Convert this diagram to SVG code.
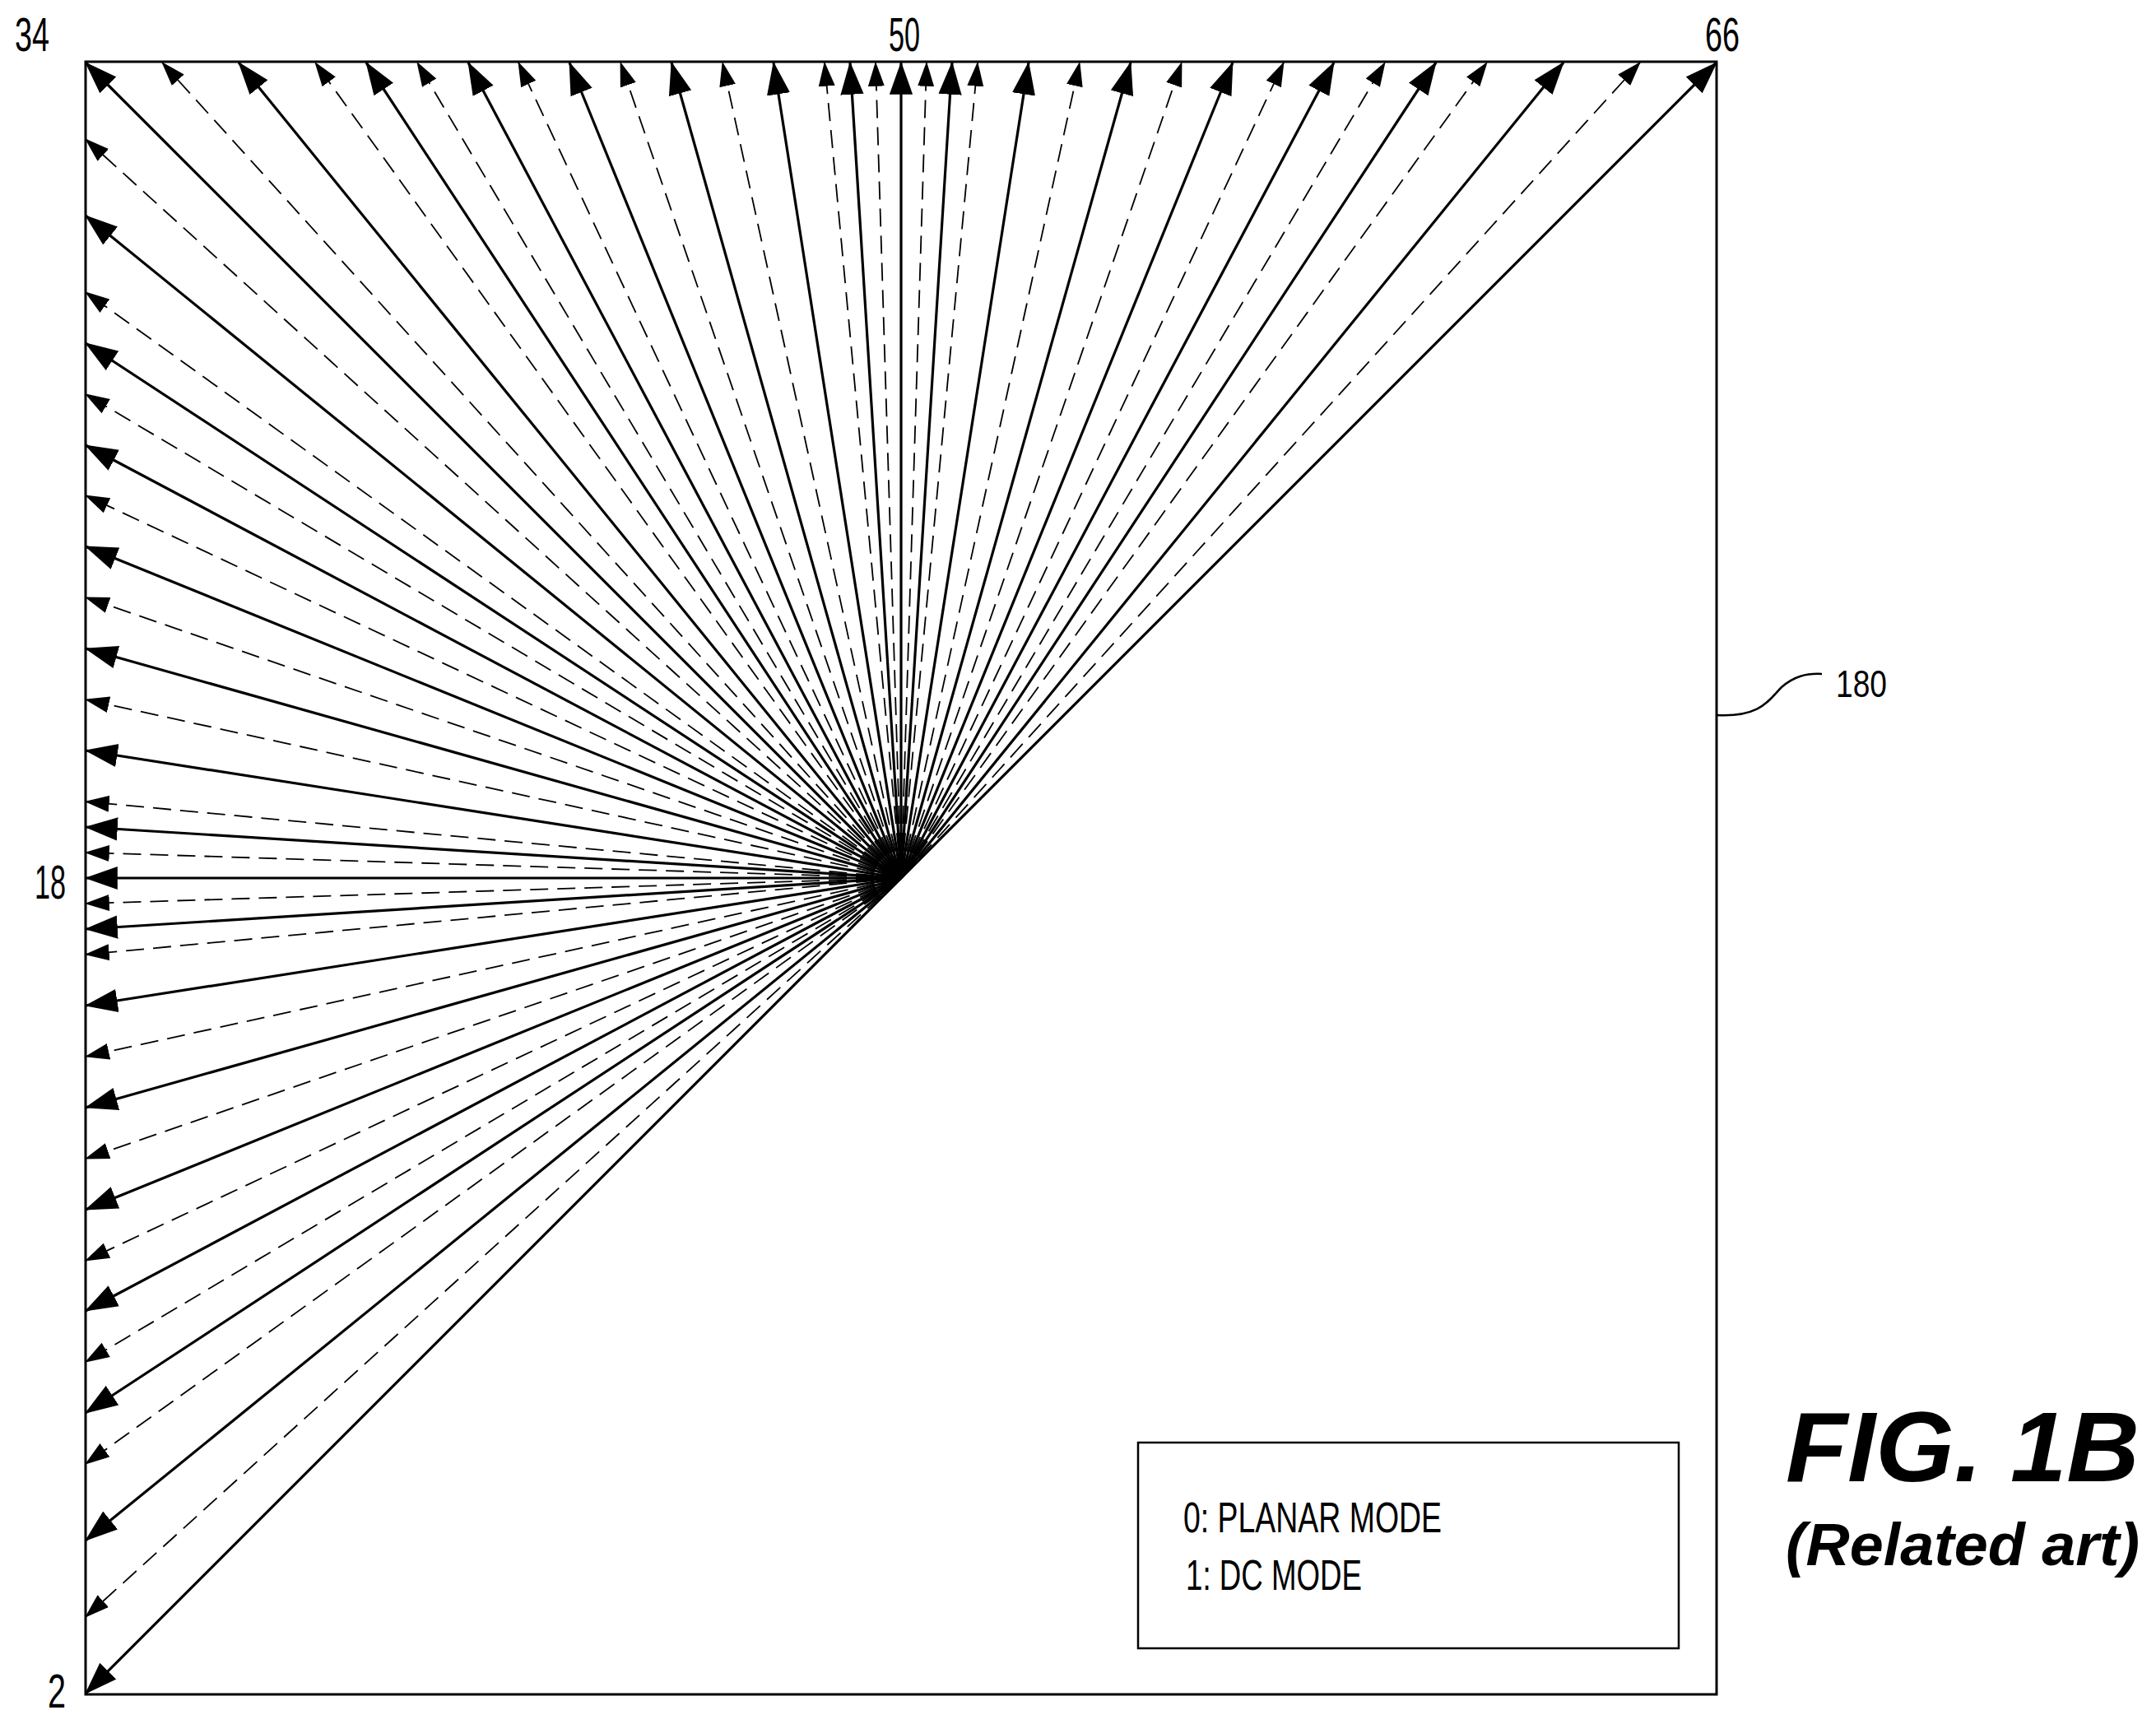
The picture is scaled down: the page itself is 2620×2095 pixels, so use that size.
<svg xmlns="http://www.w3.org/2000/svg" width="2620" height="2095" viewBox="0 0 2620 2095">
<style>
.s{stroke:#000;stroke-width:3.2;fill:none;marker-end:url(#hs)}
.d{stroke:#000;stroke-width:1.8;fill:none;stroke-dasharray:22 11;marker-end:url(#hd)}
.t{font-family:"Liberation Sans",Arial,sans-serif;fill:#000}
</style>
<defs>
<marker id="hs" markerUnits="userSpaceOnUse" markerWidth="40" markerHeight="30" viewBox="0 0 34 24" refX="33" refY="12" orient="auto"><path d="M0,0 L34,12 L0,24 Z" fill="#000"/></marker>
<marker id="hd" markerUnits="userSpaceOnUse" markerWidth="30" markerHeight="22" viewBox="0 0 24 16" refX="23" refY="8" orient="auto"><path d="M0,0 L24,8 L0,16 Z" fill="#000"/></marker>
</defs>
<rect width="2620" height="2095" fill="#fff"/>
<g id="frame"><rect x="104" y="75" width="1982" height="1984" fill="none" stroke="#000" stroke-width="3"/></g>
<g id="connectors">
<line class="s" x1="1095" y1="1067" x2="104" y2="2058"/>
<line class="d" x1="1095" y1="1067" x2="104" y2="1965"/>
<line class="s" x1="1095" y1="1067" x2="104" y2="1872"/>
<line class="d" x1="1095" y1="1067" x2="104" y2="1779"/>
<line class="s" x1="1095" y1="1067" x2="104" y2="1717"/>
<line class="d" x1="1095" y1="1067" x2="104" y2="1655"/>
<line class="s" x1="1095" y1="1067" x2="104" y2="1593"/>
<line class="d" x1="1095" y1="1067" x2="104" y2="1532"/>
<line class="s" x1="1095" y1="1067" x2="104" y2="1470"/>
<line class="d" x1="1095" y1="1067" x2="104" y2="1408"/>
<line class="s" x1="1095" y1="1067" x2="104" y2="1346"/>
<line class="d" x1="1095" y1="1067" x2="104" y2="1284"/>
<line class="s" x1="1095" y1="1067" x2="104" y2="1222"/>
<line class="d" x1="1095" y1="1067" x2="104" y2="1160"/>
<line class="s" x1="1095" y1="1067" x2="104" y2="1129"/>
<line class="d" x1="1095" y1="1067" x2="104" y2="1098"/>
<line class="s" x1="1095" y1="1067" x2="104" y2="1067"/>
<line class="d" x1="1095" y1="1067" x2="104" y2="1036"/>
<line class="s" x1="1095" y1="1067" x2="104" y2="1005"/>
<line class="d" x1="1095" y1="1067" x2="104" y2="974"/>
<line class="s" x1="1095" y1="1067" x2="104" y2="912"/>
<line class="d" x1="1095" y1="1067" x2="104" y2="850"/>
<line class="s" x1="1095" y1="1067" x2="104" y2="788"/>
<line class="d" x1="1095" y1="1067" x2="104" y2="726"/>
<line class="s" x1="1095" y1="1067" x2="104" y2="664"/>
<line class="d" x1="1095" y1="1067" x2="104" y2="602"/>
<line class="s" x1="1095" y1="1067" x2="104" y2="541"/>
<line class="d" x1="1095" y1="1067" x2="104" y2="479"/>
<line class="s" x1="1095" y1="1067" x2="104" y2="417"/>
<line class="d" x1="1095" y1="1067" x2="104" y2="355"/>
<line class="s" x1="1095" y1="1067" x2="104" y2="262"/>
<line class="d" x1="1095" y1="1067" x2="104" y2="169"/>
<line class="s" x1="1095" y1="1067" x2="104" y2="76"/>
<line class="d" x1="1095" y1="1067" x2="197" y2="76"/>
<line class="s" x1="1095" y1="1067" x2="290" y2="76"/>
<line class="d" x1="1095" y1="1067" x2="383" y2="76"/>
<line class="s" x1="1095" y1="1067" x2="445" y2="76"/>
<line class="d" x1="1095" y1="1067" x2="507" y2="76"/>
<line class="s" x1="1095" y1="1067" x2="569" y2="76"/>
<line class="d" x1="1095" y1="1067" x2="630" y2="76"/>
<line class="s" x1="1095" y1="1067" x2="692" y2="76"/>
<line class="d" x1="1095" y1="1067" x2="754" y2="76"/>
<line class="s" x1="1095" y1="1067" x2="816" y2="76"/>
<line class="d" x1="1095" y1="1067" x2="878" y2="76"/>
<line class="s" x1="1095" y1="1067" x2="940" y2="76"/>
<line class="d" x1="1095" y1="1067" x2="1002" y2="76"/>
<line class="s" x1="1095" y1="1067" x2="1033" y2="76"/>
<line class="d" x1="1095" y1="1067" x2="1064" y2="76"/>
<line class="s" x1="1095" y1="1067" x2="1095" y2="76"/>
<line class="d" x1="1095" y1="1067" x2="1126" y2="76"/>
<line class="s" x1="1095" y1="1067" x2="1157" y2="76"/>
<line class="d" x1="1095" y1="1067" x2="1188" y2="76"/>
<line class="s" x1="1095" y1="1067" x2="1250" y2="76"/>
<line class="d" x1="1095" y1="1067" x2="1312" y2="76"/>
<line class="s" x1="1095" y1="1067" x2="1374" y2="76"/>
<line class="d" x1="1095" y1="1067" x2="1436" y2="76"/>
<line class="s" x1="1095" y1="1067" x2="1498" y2="76"/>
<line class="d" x1="1095" y1="1067" x2="1560" y2="76"/>
<line class="s" x1="1095" y1="1067" x2="1621" y2="76"/>
<line class="d" x1="1095" y1="1067" x2="1683" y2="76"/>
<line class="s" x1="1095" y1="1067" x2="1745" y2="76"/>
<line class="d" x1="1095" y1="1067" x2="1807" y2="76"/>
<line class="s" x1="1095" y1="1067" x2="1900" y2="76"/>
<line class="d" x1="1095" y1="1067" x2="1993" y2="76"/>
<line class="s" x1="1095" y1="1067" x2="2086" y2="76"/>
<path d="M2086,869 C2140,872 2150,850 2165,835 C2180,822 2195,818 2214,819" fill="none" stroke="#000" stroke-width="2.5"/>
</g>
<g id="labels">
<text class="t" x="18" y="62" font-size="57" textLength="42" lengthAdjust="spacingAndGlyphs">34</text>
<text class="t" x="1080" y="62" font-size="57" textLength="38" lengthAdjust="spacingAndGlyphs">50</text>
<text class="t" x="2072" y="62" font-size="57" textLength="42" lengthAdjust="spacingAndGlyphs">66</text>
<text class="t" x="42" y="1092" font-size="57" textLength="38" lengthAdjust="spacingAndGlyphs">18</text>
<text class="t" x="58" y="2075" font-size="57" textLength="22" lengthAdjust="spacingAndGlyphs">2</text>
<text class="t" x="2231" y="847" font-size="46" textLength="62" lengthAdjust="spacingAndGlyphs">180</text>
</g>
<g id="legend">
<rect x="1383" y="1753" width="657" height="250" fill="none" stroke="#000" stroke-width="2.5"/>
<text class="t" x="1438" y="1862" font-size="52" textLength="314" lengthAdjust="spacingAndGlyphs">0: PLANAR MODE</text>
<text class="t" x="1441" y="1932" font-size="52" textLength="214" lengthAdjust="spacingAndGlyphs">1: DC MODE</text>
</g>
<g id="caption">
<text class="t" x="2170" y="1800" font-size="120" font-weight="bold" font-style="italic" textLength="430" lengthAdjust="spacingAndGlyphs">FIG. 1B</text>
<text class="t" x="2170" y="1902" font-size="72" font-weight="bold" font-style="italic" textLength="430" lengthAdjust="spacingAndGlyphs">(Related art)</text>
</g>
</svg>
